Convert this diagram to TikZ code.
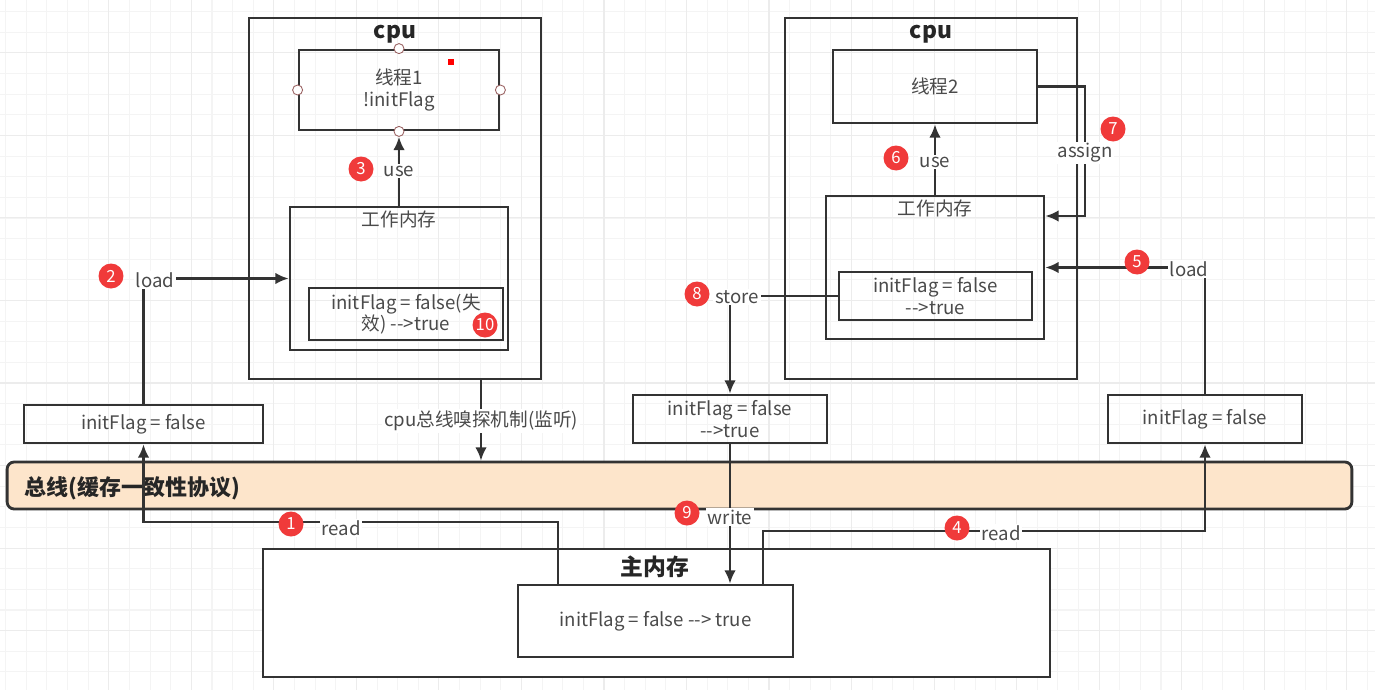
\documentclass[tikz,border=0pt]{standalone}
\usepackage{fontspec}
\setmainfont{Noto Sans CJK SC}[Ligatures=TeXOff]
\usetikzlibrary{arrows.meta}
\definecolor{LineGray}{HTML}{333333}
\definecolor{TextGray}{HTML}{4A4A4A}
\definecolor{GridMinor}{HTML}{F4F4F4}
\definecolor{GridMajor}{HTML}{ECECEC}
\definecolor{BusFill}{HTML}{FDE5CB}
\definecolor{BadgeRed}{HTML}{F03A3A}
\definecolor{PortRed}{HTML}{9A6262}

\begin{document}
\begin{tikzpicture}[x=0.02cm,y=-0.02cm,>={Latex[length=7.5pt,width=6.5pt]},line width=1.3pt,color=LineGray,
                    font=\fontsize{10.6}{12.5}\selectfont]
\tikzset{BoxStyle/.style = {draw,rectangle,line width=1.6pt,inner sep=0pt,text=TextGray},
         LabelStyle/.style = {fill=white,inner sep=1pt,text=TextGray},
         BadgeStyle/.style = {circle,fill=BadgeRed,text=white,minimum size=0.5cm,
                              inner sep=0pt,font=\fontsize{9.5}{9.5}\selectfont},
         TitleStyle/.style = {font=\fontsize{13}{13}\selectfont\bfseries,text=black!85},
         PortStyle/.style = {circle,draw=PortRed,fill=white,line width=0.5pt,
                             minimum size=0.2cm,inner sep=0pt}}
\useasboundingbox[fill=white] (0,0) rectangle (1375,690);
% grid
\foreach \i in {0,...,66}
  \draw[GridMinor,line width=0.6pt] ({5.7+20.63*\i},0) -- ({5.7+20.63*\i},690);
\foreach \j in {0,...,33}
  \draw[GridMinor,line width=0.6pt] (0,{11.7+20.63*\j}) -- (1375,{11.7+20.63*\j});
\foreach \i in {0,...,16}
  \draw[GridMajor,line width=0.6pt] ({108.85+82.52*\i},0) -- ({108.85+82.52*\i},690);
\foreach \j in {0,...,7}
  \draw[GridMajor,line width=0.6pt] (0,{52.9+82.52*\j}) -- (1375,{52.9+82.52*\j});

% bus and main memory
\node[BoxStyle,fill=BusFill,rounded corners=4pt,minimum width=26.9cm,minimum height=0.94cm] (bus) at (679.5,485.5) {};
\node[anchor=west,font=\fontsize{12.5}{12.5}\selectfont\bfseries,text=black!85] (busTitle) at (18,488) {总线(缓存一致性协议)};
\node[BoxStyle,fill=white,minimum width=15.74cm,minimum height=2.56cm] (main) at (656.5,613) {};
\node[TitleStyle] (mainTitle) at (655,567) {主内存};
\node[BoxStyle,fill=white,minimum width=5.5cm,minimum height=1.44cm] (mainIn) at (655.5,621) {initFlag = false --> true};

% left cpu
\node[BoxStyle,minimum width=5.84cm,minimum height=7.22cm] (cpu1) at (395,198.5) {};
\node[TitleStyle] (cpu1Title) at (395,34) {cpu};
\node[BoxStyle,minimum width=4cm,minimum height=1.6cm,align=center] (thread1) at (399,90) {线程1\\!initFlag};
\foreach \a in {north,south,east,west}
  \node[PortStyle] (port-\a) at (thread1.\a) {};
\node[fill=red,minimum size=0.12cm,inner sep=0pt] (mark) at (451,62) {};
\node[BoxStyle,minimum width=4.36cm,minimum height=2.86cm] (wm1) at (399,278.5) {};
\node[text=TextGray] (wm1Title) at (399,219) {工作内存};
\node[BoxStyle,minimum width=3.88cm,minimum height=1.04cm,align=center] (inner1) at (406,314) {initFlag = false(失\\效) -->true};
\node[BoxStyle,minimum width=4.78cm,minimum height=0.76cm] (copy1) at (143.5,424) {initFlag = false};

% right cpu
\node[BoxStyle,minimum width=5.84cm,minimum height=7.22cm] (cpu2) at (931,198.5) {};
\node[TitleStyle] (cpu2Title) at (931,34) {cpu};
\node[BoxStyle,minimum width=4.08cm,minimum height=1.46cm] (thread2) at (935,86.5) {线程2};
\node[BoxStyle,minimum width=4.36cm,minimum height=2.86cm] (wm2) at (935,267.5) {};
\node[text=TextGray] (wm2Title) at (935,208) {工作内存};
\node[BoxStyle,minimum width=3.86cm,minimum height=0.96cm,align=center] (inner2) at (935.5,296) {initFlag = false\\-->true};
\node[BoxStyle,minimum width=3.88cm,minimum height=0.96cm,align=center] (copy2) at (730,419) {initFlag = false\\-->true};
\node[BoxStyle,minimum width=3.88cm,minimum height=0.96cm] (copy3) at (1205,419) {initFlag = false};

% connectors
\coordinate (rd1) at (558,522);
\coordinate (rd4) at (763,531);
\coordinate (snoop) at (481,0);
\coordinate (asg) at (1085,216);
\draw[->] (mainIn.north -| rd1) -- (rd1) -| (copy1.south);
\draw[->] (copy1.north) |- (wm1.west);
\draw[->] (wm1.north) -- (port-south.south);
\draw[->] (cpu1.south -| snoop) -- (bus.north -| snoop);
\draw[->] (mainIn.north -| rd4) -- (rd4) -| (copy3.south);
\draw[->] (copy3.north) |- (wm2.east);
\draw[->] (wm2.north) -- (thread2.south);
\draw[->] (thread2.east) -| (asg) -- (asg -| wm2.east);
\draw[->] (inner2.west) -| (copy2.north);
\draw[->] (copy2.south) -- (mainIn.north -| copy2.south);

% labels
\node[LabelStyle] (readA) at (341,528) {read};
\node[LabelStyle] (loadA) at (155,280) {load};
\node[LabelStyle] (useA) at (399,171) {use};
\node[LabelStyle] (snoopLbl) at (481,421) {cpu总线嗅探机制(监听)};
\node[LabelStyle] (readB) at (1001,533) {read};
\node[LabelStyle] (loadB) at (1189,269) {load};
\node[LabelStyle] (useB) at (935,162) {use};
\node[LabelStyle] (assignB) at (1085,153) {assign};
\node[LabelStyle] (storeB) at (737,297) {store};
\node[LabelStyle] (writeB) at (730,517) {write};

% step badges
\node[BadgeStyle] (b1) at (291,524) {1};
\node[BadgeStyle] (b2) at (111,276) {2};
\node[BadgeStyle] (b3) at (361,169) {3};
\node[BadgeStyle] (b4) at (957,528) {4};
\node[BadgeStyle] (b5) at (1137,262) {5};
\node[BadgeStyle] (b6) at (896,158) {6};
\node[BadgeStyle] (b7) at (1113,129) {7};
\node[BadgeStyle] (b8) at (697,294) {8};
\node[BadgeStyle] (b9) at (687,513) {9};
\node[BadgeStyle] (b10) at (485,325) {10};
\end{tikzpicture}
\end{document}
